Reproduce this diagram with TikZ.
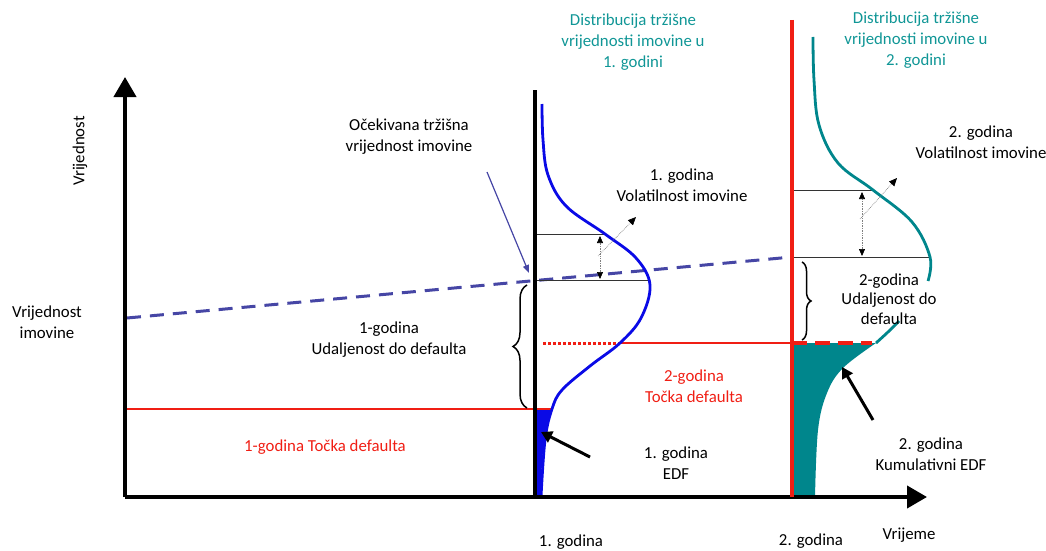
\documentclass[tikz,border=0pt]{standalone}
\usepackage{fontspec}
\setmainfont{Carlito}
\usetikzlibrary{arrows.meta,decorations.pathreplacing}
\definecolor{tealtxt}{RGB}{16,150,150}
\definecolor{tealfill}{RGB}{0,134,140}
\definecolor{dashblue}{RGB}{70,70,165}
\definecolor{curveblue}{RGB}{10,10,230}
\definecolor{redl}{RGB}{240,30,20}
\begin{document}
\begin{tikzpicture}[x=1pt,y=-1pt,
  lbl/.style={font=\fontsize{16.8}{21}\selectfont, align=center, inner sep=0pt},
  axis/.style={line width=4pt, -{Triangle[length=20pt,width=22pt]}},
  thinline/.style={line width=0.8pt, black!80},
  volarrow/.style={densely dotted, gray, line width=0.7pt, {Triangle[black,length=7pt,width=6pt]}-{Triangle[black,length=7pt,width=6pt]}},
  diagarrow/.style={densely dotted, gray, line width=0.7pt, -{Triangle[black,length=8pt,width=7pt]}},
  bigarrow/.style={line width=3pt, -{Triangle[length=11pt,width=12pt]}},
  bracestyle/.style={decorate, line width=1.5pt}
]
\useasboundingbox (0,0) rectangle (1046,551);

% coordinates
\coordinate (O) at (125,497);
\coordinate (Ytop) at (125,77);
\coordinate (Xend) at (927,497);
\coordinate (L1top) at (535,90);
\coordinate (L1bot) at (535,497);
\coordinate (L2top) at (792,20);
\coordinate (L2bot) at (792,497);

% teal fill (year 2 cumulative EDF)
\fill[tealfill] (792,343) -- plot[smooth,tension=0.6] coordinates {(876,343) (843,368) (827,393) (818,430) (815,497)} -- (792,497) -- cycle;
% blue fill (year 1 EDF)
\fill[curveblue] (535,409) -- (552,409) .. controls (544,430) and (541,460) .. (541,497) -- (535,497) -- cycle;

% expected value dashed line
\coordinate (D0) at (127,318);
\coordinate (D1) at (792,257);
\draw[dashblue, line width=3pt, dash pattern=on 14pt off 9pt] (D0) -- (D1);

% red default lines
\coordinate (R1a) at (127,409);
\coordinate (R1b) at (552,409);
\draw[redl, line width=2.5pt] (R1a) -- (R1b);
\coordinate (R2a) at (543,343);
\coordinate (R2b) at (620,343);
\coordinate (R2c) at (792,343);
\coordinate (R2d) at (872,343);
\draw[redl, line width=3pt, dash pattern=on 2.5pt off 2.5pt] (R2a) -- (R2b);
\draw[redl, line width=2.5pt] (R2b) -- (R2c);
\draw[redl, line width=4pt, dash pattern=on 15pt off 8pt] (R2c) -- (R2d);

% year 1 horizontal markers
\coordinate (H1a) at (535,234);
\coordinate (H1b) at (605,234);
\coordinate (H2a) at (535,280);
\coordinate (H2b) at (649,280);
\draw[thinline] (H1a) -- (H1b);
\draw[thinline] (H2a) -- (H2b);
% year 2 horizontal markers
\coordinate (H3a) at (792,190);
\coordinate (H3b) at (873,190);
\coordinate (H4a) at (792,257);
\coordinate (H4b) at (930,257);
\draw[thinline] (H3a) -- (H3b);
\draw[thinline] (H4a) -- (H4b);

% distribution curves
\draw[curveblue, line width=2.8pt] plot[smooth,tension=0.6] coordinates {(542,104) (543,140) (548,175) (566,206) (605,234) (636,258) (650,285) (641,318) (620,343) (590,366) (562,390) (552,409) (545,440) (541,497)};
\draw[tealfill, line width=2.8pt] plot[smooth,tension=0.6] coordinates {(813,37) (814,80) (819,125) (838,163) (873,190) (912,222) (930,257) (928,281)};
\draw[tealfill, line width=2.8pt] plot[smooth,tension=0.6] coordinates {(899,321) (888,332) (876,343)};

% axes and verticals
\draw[axis] (O) -- (Ytop);
\draw[axis] (O) -- (Xend);
\draw[line width=4pt] (L1top) -- (L1bot);
\draw[redl, line width=4pt] (L2top) -- (L2bot);

% volatility arrows
\coordinate (V1a) at (600,236);
\coordinate (V1b) at (600,279);
\draw[volarrow] (V1b) -- (V1a);
\coordinate (V1c) at (598,256);
\coordinate (V1d) at (636,217);
\draw[diagarrow] (V1c) -- (V1d);
\coordinate (V2a) at (862,192);
\coordinate (V2b) at (862,256);
\draw[volarrow] (V2b) -- (V2a);
\coordinate (V2c) at (860,219);
\coordinate (V2d) at (897,178);
\draw[diagarrow] (V2c) -- (V2d);

% expected value pointer
\coordinate (E0) at (487,172);
\coordinate (E1) at (529,273);
\draw[dashblue, line width=1.2pt, -{Triangle[length=8pt,width=6pt]}] (E0) -- (E1);

% EDF arrows
\coordinate (A1) at (590,457);
\coordinate (A1t) at (541,432);
\draw[bigarrow] (A1) -- (A1t);
\coordinate (A2) at (873,420);
\coordinate (A2t) at (842,367);
\draw[bigarrow] (A2) -- (A2t);

% braces
\coordinate (B1a) at (527,408);
\coordinate (B1b) at (527,285);
\draw[bracestyle, decoration={brace, amplitude=14pt}] (B1a) -- (B1b);
\coordinate (B2a) at (802,262);
\coordinate (B2b) at (802,340);
\draw[bracestyle, decoration={brace, amplitude=9pt}] (B2a) -- (B2b);

% texts
\node[lbl, tealtxt] (t1) at (633,42) {Distribucija tržišne\\vrijednosti imovine u\\1. godini};
\node[lbl, tealtxt] (t2) at (916,40) {Distribucija tržišne\\vrijednosti imovine u\\2. godini};
\node[lbl] (t3) at (409,137) {Očekivana tržišna\\vrijednost imovine};
\node[lbl] (t4) at (682,185) {1. godina\\Volatilnost imovine};
\node[lbl] (t5) at (981,142) {2. godina\\Volatilnost imovine};
\node[lbl, rotate=90] (t6) at (80,151) {Vrijednost};
\node[lbl] (t7) at (47,322) {Vrijednost\\imovine};
\node[lbl] (t8) at (389,340) {1-godina\\Udaljenost do defaulta};
\node[lbl, font=\fontsize{16.8}{19.5}\selectfont] (t9) at (889,299) {2-godina\\Udaljenost do\\defaulta};
\node[lbl, redl] (t10) at (694,386) {2-godina\\Točka defaulta};
\node[lbl, redl] (t11) at (325,447) {1-godina Točka defaulta};
\node[lbl] (t12) at (676,463) {1. godina\\EDF};
\node[lbl] (t13) at (931,454) {2. godina\\Kumulativni EDF};
\node[lbl] (t14) at (571,542) {1. godina};
\node[lbl] (t15) at (811,541) {2. godina};
\node[lbl] (t16) at (909,535) {Vrijeme};
\end{tikzpicture}
\end{document}
